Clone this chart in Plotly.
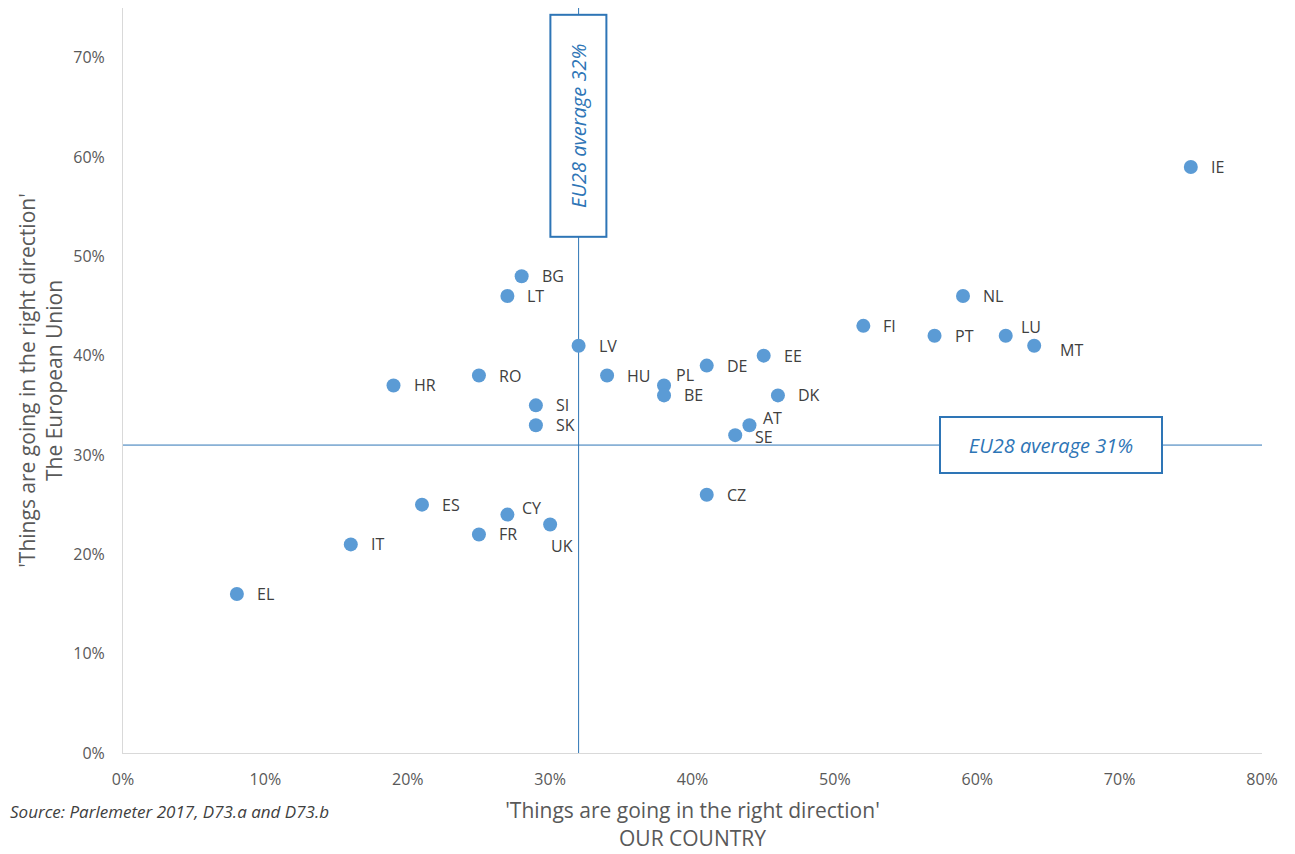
import plotly.graph_objects as go

countries = ["IE", "NL", "FI", "PT", "LU", "MT", "EE", "DE", "DK", "AT", "SE", "CZ",
             "PL", "BE", "HU", "LV", "BG", "LT", "RO", "HR", "SI", "SK", "ES", "CY",
             "FR", "UK", "IT", "EL"]
our_country = [75, 59, 52, 57, 62, 64, 45, 41, 46, 44, 43, 41,
               38, 38, 34, 32, 28, 27, 25, 19, 29, 29, 21, 27,
               25, 30, 16, 8]
european_union = [59, 46, 43, 42, 42, 41, 40, 39, 36, 33, 32, 26,
                  37, 36, 38, 41, 48, 46, 38, 37, 35, 33, 25, 24,
                  22, 23, 21, 16]
# label offsets in pixels (style only)
label_dx = {"LU": 13, "MT": 24, "AT": 12, "PL": 10, "CY": 13, "UK": -1}
label_dy = {"LU": 9, "MT": -4, "AT": 7, "SE": -2, "PL": 10, "CY": 7, "UK": -21}

x_ticks = [0, 10, 20, 30, 40, 50, 60, 70, 80]
y_ticks = [0, 10, 20, 30, 40, 50, 60, 70]
eu_avg_x = 32
eu_avg_y = 31

blue = "#2e75b6"
font = "Open Sans"

fig = go.Figure()
fig.add_trace(go.Scatter(
    x=our_country, y=european_union, mode="markers",
    marker=dict(size=14, color="#5b9bd5"), hoverinfo="text", text=countries,
    showlegend=False))

annotations = []
for c, xv, yv in zip(countries, our_country, european_union):
    annotations.append(dict(
        x=xv, y=yv, text=c, showarrow=False, xanchor="left", yanchor="middle",
        xshift=label_dx.get(c, 18), yshift=label_dy.get(c, 0),
        font=dict(family=font, size=16, color="#404040")))

annotations.append(dict(
    x=eu_avg_x, y=63.1, text=f"<i>EU28 average {eu_avg_x}%</i>", showarrow=False,
    textangle=-90, width=218, height=52, bordercolor=blue, borderwidth=2,
    bgcolor="white", font=dict(family=font, size=20, color=blue)))
annotations.append(dict(
    x=65.2, y=eu_avg_y, text=f"<i>EU28 average {eu_avg_y}%</i>", showarrow=False,
    width=218, height=52, bordercolor=blue, borderwidth=2,
    bgcolor="white", font=dict(family=font, size=20, color=blue)))
annotations.append(dict(
    xref="paper", yref="paper", x=-115 / 1139, y=-(812 - 753) / 745,
    xanchor="left", yanchor="middle", showarrow=False,
    text="<i>Source: Parlemeter 2017, D73.a and D73.b</i>",
    font=dict(family=font, size=17, color="#404040")))

shapes = [
    dict(type="line", xref="x", yref="y", x0=eu_avg_x, x1=eu_avg_x, y0=0, y1=75,
         line=dict(color=blue, width=1), layer="below"),
    dict(type="line", xref="x", yref="y", x0=0, x1=80, y0=eu_avg_y, y1=eu_avg_y,
         line=dict(color=blue, width=1), layer="below"),
]

fig.update_layout(
    width=1287, height=846,
    margin=dict(l=115, r=33, t=0, b=101, autoexpand=False),
    paper_bgcolor="white", plot_bgcolor="white",
    font=dict(family=font, color="#595959"),
    annotations=annotations, shapes=shapes,
    xaxis=dict(range=[0, 80], tickvals=x_ticks, ticktext=[f"{v}%" for v in x_ticks],
               showgrid=False, zeroline=False, showline=True, linecolor="#d9d9d9",
               linewidth=1, ticks="", ticklabelstandoff=12,
               tickfont=dict(family=font, size=16, color="#595959"),
               title=dict(text="'Things are going in the right direction'<br>OUR COUNTRY",
                          font=dict(family=font, size=21, color="#595959"), standoff=14)),
    yaxis=dict(range=[0, 75], tickvals=y_ticks, ticktext=[f"{v}%" for v in y_ticks],
               showgrid=False, zeroline=False, showline=True, linecolor="#d9d9d9",
               linewidth=1, ticks="", ticklabelstandoff=14,
               tickfont=dict(family=font, size=16, color="#595959"),
               title=dict(text="'Things are going in the right direction'<br>The European Union",
                          font=dict(family=font, size=21, color="#595959"), standoff=4)),
)

fig.write_html("out.html")
